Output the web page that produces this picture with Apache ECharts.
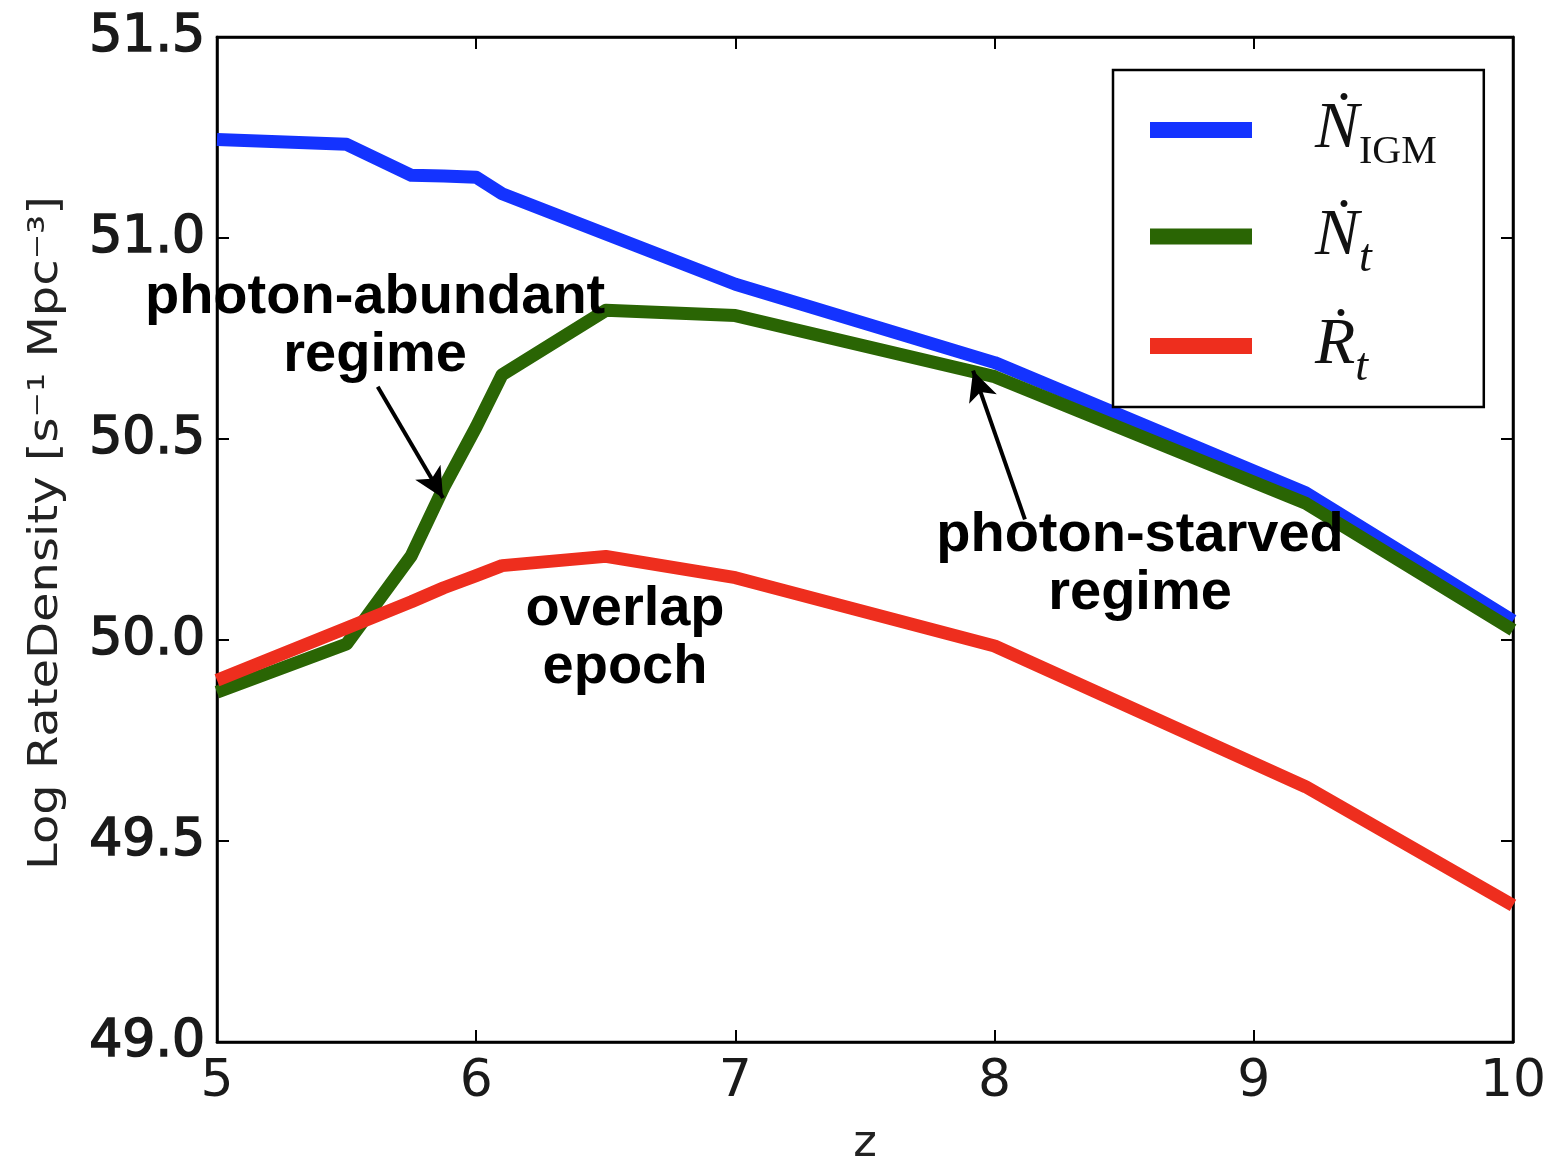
<!DOCTYPE html>
<html>
<head>
<meta charset="utf-8">
<script src="https://cdn.jsdelivr.net/npm/echarts@6/dist/echarts.min.js"></script>
<style>
html,body{margin:0;padding:0;background:#fff;overflow:hidden;}
#chart{width:1558px;height:1158px;}
</style>
</head>
<body>
<div id="chart"></div>
<script>
// redshift samples
const zValues = [5.0, 5.5, 5.75, 5.875, 6.0, 6.1, 6.5, 7.0, 8.0, 9.2, 10.0];
// Log rate densities
const nIGM = [51.245, 51.233, 51.156, 51.154, 51.151, 51.11, 51.01, 50.885, 50.69, 50.366, 50.048];
const nT   = [49.87, 49.99, 50.21, 50.38, 50.53, 50.66, 50.82, 50.807, 50.655, 50.34, 50.025];
const rT   = [49.90, 50.03, 50.095, 50.13, 50.16, 50.185, 50.208, 50.155, 49.985, 49.635, 49.34];
const xTicks = [5, 6, 7, 8, 9, 10];
const yTicks = [49.0, 49.5, 50.0, 50.5, 51.0, 51.5];
const seriesNames = ['NIGM', 'Nt', 'Rt'];
const yTitle = 'Log RateDensity [s\u207B\u00B9 Mpc\u207B\u00B3]';
const notes = [
  {text: 'photon-abundant\nregime', at: [5.61, 50.78]},
  {text: 'overlap\nepoch', at: [6.574, 50.003]},
  {text: 'photon-starved\nregime', at: [8.561, 50.187]}
];
const arrows = [
  {from: [5.62, 50.63], to: [5.872, 50.353]},
  {from: [8.117, 50.30], to: [7.917, 50.67]}
];

const pairs = arr => zValues.map((z, i) => [z, arr[i]]);
const colors = ['#1433ff', '#2a6504', '#ee2e1e'];
const serif = '"Liberation Serif","DejaVu Serif",serif';

const chart = echarts.init(document.getElementById('chart'), null, {width: 1558, height: 1158});
const sans = '"DejaVu Sans",sans-serif';

const option = {
  animation: false,
  backgroundColor: '#fff',
  grid: {left: 217, right: 45, top: 37, bottom: 116, show: true, borderColor: '#000', borderWidth: 2.5,
         containLabel: false, outerBoundsMode: 'none'},
  xAxis: [{
    type: 'value', min: 5, max: 10, interval: 1,
    name: 'z', nameLocation: 'middle', nameGap: 80,
    nameTextStyle: {fontSize: 45, color: '#222', fontFamily: sans},
    axisLine: {show: true, lineStyle: {color: '#000', width: 2.5}},
    axisTick: {show: true, inside: true, length: 12, lineStyle: {color: '#000', width: 2}},
    axisLabel: {fontSize: 52, color: '#1a1a1a', margin: 14, fontFamily: sans,
      formatter: v => xTicks.includes(v) ? String(v) : ''},
    splitLine: {show: false}
  }, {
    type: 'value', min: 5, max: 10, interval: 1, position: 'top',
    axisLine: {show: true, lineStyle: {color: '#000', width: 2.5}},
    axisTick: {show: true, inside: true, length: 12, lineStyle: {color: '#000', width: 2}},
    axisLabel: {show: false}, splitLine: {show: false}
  }],
  yAxis: [{
    type: 'value', min: 49, max: 51.5, interval: 0.5,
    axisLine: {show: true, lineStyle: {color: '#000', width: 2.5}},
    axisTick: {show: true, inside: true, length: 12, lineStyle: {color: '#000', width: 2}},
    axisLabel: {fontSize: 52, color: '#1a1a1a', margin: 12, fontFamily: sans,
      textBorderColor: '#1a1a1a', textBorderWidth: 1.6,
      formatter: v => { const t = yTicks.find(y => Math.abs(y - v) < 1e-6); return t === undefined ? '' : t.toFixed(1); }},
    splitLine: {show: false}
  }, {
    type: 'value', min: 49, max: 51.5, interval: 0.5, position: 'right',
    axisLine: {show: true, lineStyle: {color: '#000', width: 2.5}},
    axisTick: {show: true, inside: true, length: 12, lineStyle: {color: '#000', width: 2}},
    axisLabel: {show: false}, splitLine: {show: false}
  }],
  graphic: [{
    type: 'text', x: 47, y: 533, rotation: Math.PI / 2, scaleX: 1.2, scaleY: 1,
    style: {text: yTitle, fontSize: 40, fontFamily: sans, fill: '#222', align: 'center', verticalAlign: 'middle'}
  }],
  legend: {
    orient: 'vertical', left: 1113, top: 70,
    padding: [18, 47, 16, 37],
    borderColor: '#000', borderWidth: 2.5, backgroundColor: '#fff',
    itemWidth: 102, itemHeight: 16, itemGap: 19.5, icon: 'rect',
    data: seriesNames,
    formatter: n => n === 'NIGM' ? '{n|\u1E44}{s|IGM}' : (n === 'Nt' ? '{n|\u1E44}{t|t}' : '{n|\u1E58}{t|t}'),
    textStyle: {
      width: 140, height: 64, padding: [0, 0, 0, 58],
      rich: {
        n: {fontFamily: serif, fontStyle: 'italic', fontSize: 66, color: '#111', lineHeight: 64},
        s: {fontFamily: serif, fontSize: 40, color: '#111', padding: [44, 0, 0, 0], lineHeight: 64},
        t: {fontFamily: serif, fontStyle: 'italic', fontSize: 46, color: '#111', padding: [44, 0, 0, 0], lineHeight: 64}
      }
    }
  },
  series: [
    {name: 'NIGM', type: 'line', data: pairs(nIGM), showSymbol: false, symbol: 'none',
     lineStyle: {color: colors[0], width: 13, join: 'round'}, itemStyle: {color: colors[0]}},
    {name: 'Nt', type: 'line', data: pairs(nT), showSymbol: false, symbol: 'none',
     lineStyle: {color: colors[1], width: 13, join: 'round'}, itemStyle: {color: colors[1]},
     markLine: {
       silent: true, animation: false,
       symbol: ['none', 'arrow'], symbolSize: [22, 30],
       lineStyle: {color: '#000', width: 4, type: 'solid'},
       label: {show: false},
       data: arrows.map(a => [{coord: a.from}, {coord: a.to}])
     }},
    {name: 'Rt', type: 'line', data: pairs(rT), showSymbol: false, symbol: 'none',
     lineStyle: {color: colors[2], width: 13, join: 'round'}, itemStyle: {color: colors[2]},
     markPoint: {
       silent: true, animation: false,
       symbol: 'circle', symbolSize: 0,
       data: notes.map(n => ({coord: n.at, value: n.text,
         label: {show: true, position: 'inside', formatter: n.text, fontSize: 56, fontWeight: 'bold',
           color: '#000', lineHeight: 58, align: 'center', verticalAlign: 'middle',
           fontFamily: '"Liberation Sans",Arial,sans-serif'}}))
     }}
  ]
};
chart.setOption(option);
</script>
</body>
</html>
